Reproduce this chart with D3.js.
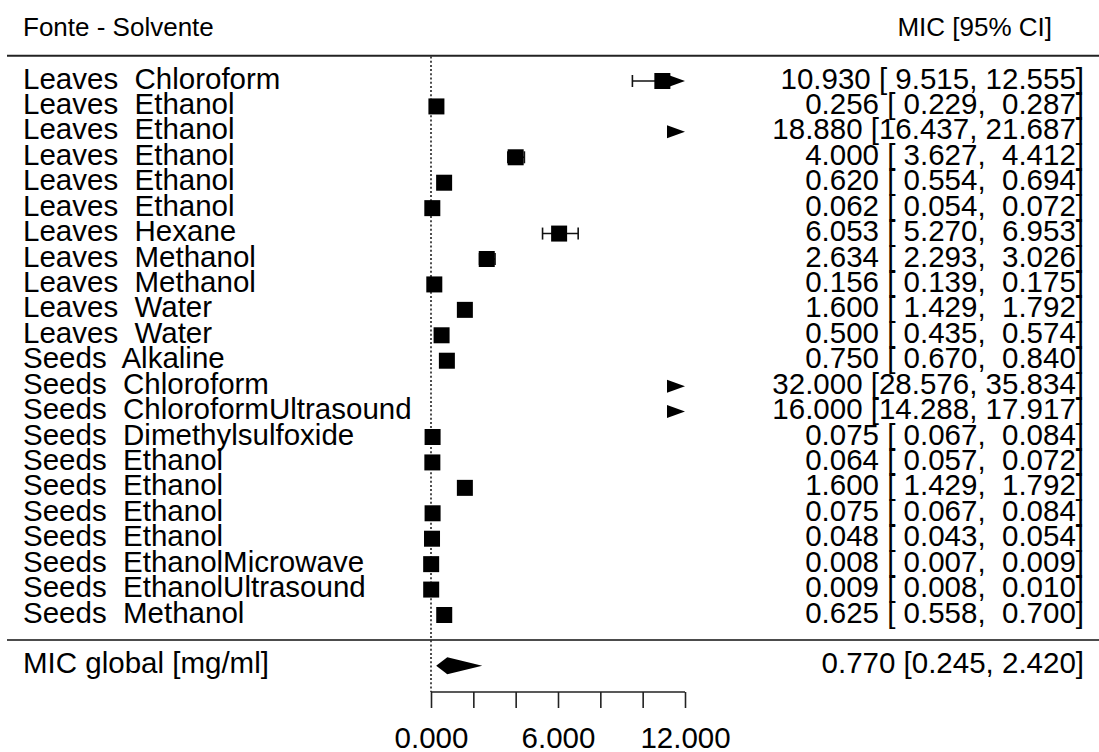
<!DOCTYPE html>
<html>
<head>
<meta charset="utf-8">
<script src="https://cdn.jsdelivr.net/npm/d3@7"></script>
<style>
  html, body { margin: 0; padding: 0; background: #fff; }
  svg { display: block; }
  text { font-family: "Liberation Sans", Arial, Helvetica, sans-serif; fill: #000; white-space: pre; }
</style>
</head>
<body>
<svg id="chart" width="1099" height="752"></svg>
<script>
// Study labels
const sources = ["Leaves","Leaves","Leaves","Leaves","Leaves","Leaves","Leaves","Leaves","Leaves","Leaves","Leaves",
                 "Seeds","Seeds","Seeds","Seeds","Seeds","Seeds","Seeds","Seeds","Seeds","Seeds","Seeds"];
const solvents = ["Chloroform","Ethanol","Ethanol","Ethanol","Ethanol","Ethanol","Hexane","Methanol","Methanol","Water","Water",
                  "Alkaline","Chloroform","ChloroformUltrasound","Dimethylsulfoxide","Ethanol","Ethanol","Ethanol","Ethanol",
                  "EthanolMicrowave","EthanolUltrasound","Methanol"];
// MIC estimates with 95% confidence limits (mg/ml)
const mic   = [10.930, 0.256, 18.880, 4.000, 0.620, 0.062, 6.053, 2.634, 0.156, 1.600, 0.500,
               0.750, 32.000, 16.000, 0.075, 0.064, 1.600, 0.075, 0.048, 0.008, 0.009, 0.625];
const lower = [9.515, 0.229, 16.437, 3.627, 0.554, 0.054, 5.270, 2.293, 0.139, 1.429, 0.435,
               0.670, 28.576, 14.288, 0.067, 0.057, 1.429, 0.067, 0.043, 0.007, 0.008, 0.558];
const upper = [12.555, 0.287, 21.687, 4.412, 0.694, 0.072, 6.953, 3.026, 0.175, 1.792, 0.574,
               0.840, 35.834, 17.917, 0.084, 0.072, 1.792, 0.084, 0.054, 0.009, 0.010, 0.700];
// Pooled estimate
const pooled = { est: 0.770, lo: 0.245, hi: 2.420 };
// Axis
const xTicks = [0, 2, 4, 6, 8, 10, 12];
const xTickLabels = ["0.000", "", "", "6.000", "", "", "12.000"];

const svg = d3.select("#chart");
const fmt = d3.format(".3f");
const pad = (s, w) => " ".repeat(Math.max(0, w - s.length)) + s;

const x = d3.scaleLinear().domain([0, 12]).range([431, 685]);
const y = d3.scalePoint().domain(d3.range(mic.length)).range([81, 615]);
const ySum = 665.7;
const xMin = x.domain()[0], xMax = x.domain()[1];

const rowFont = "29.5px";
const headFont = "26px";

// Header texts
svg.append("text").attr("x", 23).attr("y", 36).style("font-size", headFont).text("Fonte - Solvente");
svg.append("text").attr("x", 1052).attr("y", 36).attr("text-anchor", "end").style("font-size", headFont).text("MIC [95% CI]");

// Horizontal rules
svg.append("line").attr("x1", 7).attr("x2", 1099).attr("y1", 55.7).attr("y2", 55.7)
  .attr("stroke", "#222").attr("stroke-width", 2);
svg.append("line").attr("x1", 7).attr("x2", 1099).attr("y1", 640).attr("y2", 640)
  .attr("stroke", "#111").attr("stroke-width", 1.6);

// Reference line at zero
svg.append("line").attr("x1", x(0)).attr("x2", x(0)).attr("y1", 56.5).attr("y2", 692)
  .attr("stroke", "#222").attr("stroke-width", 1.6).attr("stroke-dasharray", "2,2.2");

const rows = mic.map((m, i) => ({ i, src: sources[i], sol: solvents[i], m, lo: lower[i], hi: upper[i] }));

// Row labels
svg.append("g").selectAll("text").data(rows).join("text")
  .attr("x", 23).attr("y", d => y(d.i) + 7.5)
  .style("font-size", rowFont)
  .text(d => d.src + "  " + d.sol);

// Estimate [CI] column
svg.append("g").selectAll("text").data(rows).join("text")
  .attr("x", 1084).attr("y", d => y(d.i) + 7.5)
  .attr("text-anchor", "end")
  .style("font-size", rowFont)
  .text(d => pad(fmt(d.m), 6) + " [" + pad(fmt(d.lo), 6) + ", " + pad(fmt(d.hi), 6) + "]");

// Confidence intervals
const ciG = svg.append("g").attr("stroke", "#111").attr("stroke-width", 1.6);
const tickH = 6;
rows.forEach(d => {
  if (d.lo > xMax || d.hi < xMin) return;
  const a = Math.max(d.lo, xMin), b = Math.min(d.hi, xMax);
  const yy = y(d.i);
  const bEnd = d.hi > xMax ? x(xMax) - 10 : x(b);
  ciG.append("line").attr("x1", x(a)).attr("x2", bEnd).attr("y1", yy).attr("y2", yy);
  if (d.lo >= xMin) ciG.append("line").attr("x1", x(a)).attr("x2", x(a)).attr("y1", yy - tickH).attr("y2", yy + tickH);
  if (d.hi <= xMax) ciG.append("line").attr("x1", x(b)).attr("x2", x(b)).attr("y1", yy - tickH).attr("y2", yy + tickH);
});

// Arrows for intervals running past the axis limit
const arrowW = 18, arrowH = 6.5;
svg.append("g").selectAll("path").data(rows.filter(d => d.hi > xMax)).join("path")
  .attr("d", d => {
    const yy = y(d.i), tip = x(xMax);
    return `M${tip},${yy}L${tip - arrowW},${yy - arrowH}L${tip - arrowW},${yy + arrowH}Z`;
  })
  .attr("fill", "#000");

// Point estimates
const sq = 16;
svg.append("g").selectAll("rect").data(rows.filter(d => d.m >= xMin && d.m <= xMax)).join("rect")
  .attr("x", d => x(d.m) - sq / 2).attr("y", d => y(d.i) - sq / 2)
  .attr("width", sq).attr("height", sq)
  .attr("fill", "#000");

// Pooled estimate
svg.append("text").attr("x", 23).attr("y", ySum + 7.5).style("font-size", rowFont).text("MIC global [mg/ml]");
svg.append("text").attr("x", 1084).attr("y", ySum + 7.5).attr("text-anchor", "end").style("font-size", rowFont)
  .text(fmt(pooled.est) + " [" + fmt(pooled.lo) + ", " + fmt(pooled.hi) + "]");
svg.append("path")
  .attr("d", `M${x(pooled.lo)},${ySum}L${x(pooled.est)},${ySum - 8.5}L${x(pooled.hi)},${ySum}L${x(pooled.est)},${ySum + 8.5}Z`)
  .attr("fill", "#000");

// X axis
const axisY = 692;
const axis = d3.axisBottom(x).tickValues(xTicks).tickSize(16).tickPadding(20)
  .tickFormat((v, i) => xTickLabels[i]);
const ax = svg.append("g").attr("transform", `translate(0,${axisY})`).call(axis);
ax.select(".domain").attr("d", `M${x(xMin)},0H${x(xMax)}`).attr("stroke", "#222").attr("stroke-width", 1.6);
ax.selectAll(".tick line").attr("stroke", "#222").attr("stroke-width", 1.6);
ax.selectAll(".tick text").style("font-size", rowFont)
  .style("font-family", '"Liberation Sans", Arial, sans-serif').attr("fill", "#000")
  .attr("y", 56).attr("dy", null);
</script>
</body>
</html>
